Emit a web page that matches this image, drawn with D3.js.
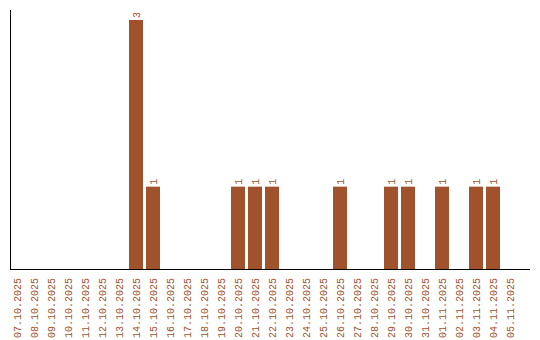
<!DOCTYPE html>
<html>
  <head>
    <script src="https://d3js.org/d3.v7.min.js"></script>
    <style>
      body { margin: 0; background: #fff; }
      text { font-family: "Liberation Mono", monospace; font-size: 10px; fill: #a0522d; }
    </style>
  </head>
  <body>
    <div id="chart"></div>
    <script>
      // Data
      const days = [
        "07.10.2025", "08.10.2025", "09.10.2025", "10.10.2025", "11.10.2025",
        "12.10.2025", "13.10.2025", "14.10.2025", "15.10.2025", "16.10.2025",
        "17.10.2025", "18.10.2025", "19.10.2025", "20.10.2025", "21.10.2025",
        "22.10.2025", "23.10.2025", "24.10.2025", "25.10.2025", "26.10.2025",
        "27.10.2025", "28.10.2025", "29.10.2025", "30.10.2025", "31.10.2025",
        "01.11.2025", "02.11.2025", "03.11.2025", "04.11.2025", "05.11.2025"
      ];
      const counts = [
        0, 0, 0, 0, 0, 0, 0, 3, 1, 0,
        0, 0, 0, 1, 1, 1, 0, 0, 0, 1,
        0, 0, 1, 1, 0, 1, 0, 1, 1, 0
      ];

      const W = 540, H = 340;
      const margin = { left: 10, right: 530, top: 10, bottom: 270 };
      const color = "#a0522d";

      const svg = d3.select("#chart").append("svg")
        .attr("width", W).attr("height", H);

      const x = d3.scaleBand()
        .domain(days)
        .range([margin.left, margin.right])
        .paddingInner(3 / 17)
        .paddingOuter(0.382)
        .align(0);
      const y = d3.scaleLinear().domain([0, 3.12]).range([margin.bottom, margin.top]);

      const data = days.map((d, i) => ({ day: d, value: counts[i] }));

      // bars
      svg.selectAll("rect.bar")
        .data(data.filter(d => d.value > 0))
        .enter().append("rect")
        .attr("class", "bar")
        .attr("x", d => x(d.day))
        .attr("y", d => y(d.value))
        .attr("width", x.bandwidth())
        .attr("height", d => y(0) - y(d.value))
        .attr("fill", color);

      // value labels
      svg.selectAll("text.val")
        .data(data.filter(d => d.value > 0))
        .enter().append("text")
        .attr("class", "val")
        .attr("transform", d => `translate(${x(d.day) + x.bandwidth() / 2}, ${y(d.value) - 2}) rotate(-90)`)
        .attr("dy", "0.35em")
        .style("text-anchor", "start")
        .text(d => d.value);

      // x axis
      const xAxis = svg.append("g")
        .attr("transform", `translate(0, ${margin.bottom})`)
        .call(d3.axisBottom(x).tickSize(0).tickPadding(0));
      xAxis.select(".domain").remove();
      xAxis.selectAll("text")
        .attr("x", 0).attr("y", 0)
        .attr("dy", "0.35em")
        .attr("transform", "translate(0, 8) rotate(-90)")
        .style("text-anchor", "end")
        .style("font-family", "Liberation Mono, monospace")
        .style("font-size", "10px")
        .attr("fill", color);

      svg.append("line")
        .attr("x1", margin.left).attr("x2", margin.right)
        .attr("y1", margin.bottom - 0.5).attr("y2", margin.bottom - 0.5)
        .attr("stroke", "#000");

      // y axis line
      svg.append("line")
        .attr("x1", margin.left + 0.5).attr("x2", margin.left + 0.5)
        .attr("y1", margin.top).attr("y2", margin.bottom)
        .attr("stroke", "#000");
    </script>
  </body>
</html>
